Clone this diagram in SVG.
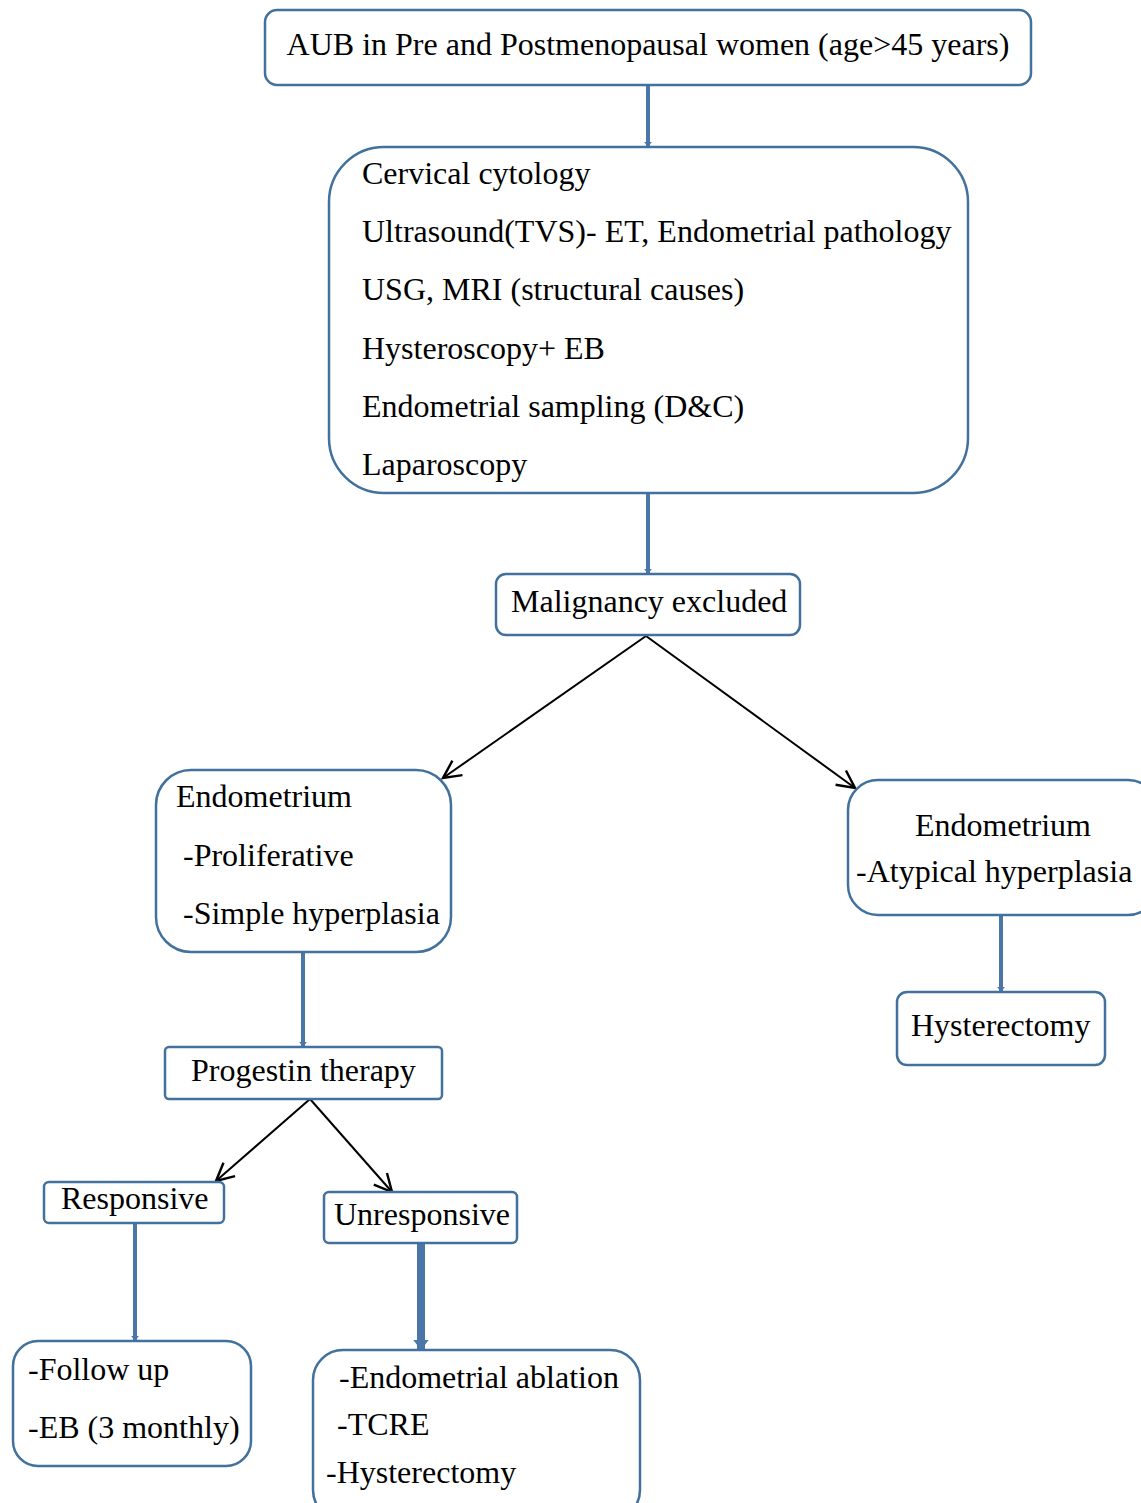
<svg xmlns="http://www.w3.org/2000/svg" width="1141" height="1503" viewBox="0 0 1141 1503">
<defs>
<style>
.box{fill:#fff;stroke:#41719c;stroke-width:2.5}
text{font-family:"Liberation Serif","Times New Roman",serif;font-size:32px;fill:#000}
.blue{stroke:#4a76a8;fill:none}
.blk{stroke:#000;stroke-width:2;fill:none}
</style>
<marker id="bh" viewBox="0 0 10 10" refX="10" refY="5" markerWidth="1.3" markerHeight="2" orient="auto" markerUnits="strokeWidth" preserveAspectRatio="none"><path d="M0,0L10,5L0,10z" fill="#4a76a8"/></marker>
<marker id="oh" viewBox="0 0 20 20" refX="18" refY="10" markerWidth="11" markerHeight="11" orient="auto" markerUnits="strokeWidth"><path d="M2,2L18,10L2,18" fill="none" stroke="#000" stroke-width="2.2"/></marker>
</defs>
<rect width="1141" height="1503" fill="#fff"/>
<g id="connectors">
<line class="blue" x1="648" y1="85" x2="648" y2="147" stroke-width="4" marker-end="url(#bh)"/>
<line class="blue" x1="648" y1="493" x2="648" y2="574" stroke-width="4" marker-end="url(#bh)"/>
<line class="blk" x1="646" y1="636" x2="443" y2="778" marker-end="url(#oh)"/>
<line class="blk" x1="646" y1="636" x2="855" y2="788" marker-end="url(#oh)"/>
<line class="blue" x1="303" y1="952" x2="303" y2="1047" stroke-width="4" marker-end="url(#bh)"/>
<line class="blue" x1="1001" y1="915" x2="1001" y2="992" stroke-width="4" marker-end="url(#bh)"/>
<line class="blk" x1="310" y1="1099" x2="216" y2="1181" marker-end="url(#oh)"/>
<line class="blk" x1="310" y1="1099" x2="392" y2="1192" marker-end="url(#oh)"/>
<line class="blue" x1="135" y1="1223" x2="135" y2="1341" stroke-width="4" marker-end="url(#bh)"/>
<line class="blue" x1="421" y1="1243" x2="421" y2="1350" stroke-width="8" marker-end="url(#bh)"/>
</g>
<g id="n1"><rect class="box" x="265" y="10" width="766" height="75" rx="12"/><text x="648" y="55" text-anchor="middle">AUB in Pre and Postmenopausal women (age&gt;45 years)</text></g>
<g id="n2"><rect class="box" x="329" y="147" width="639" height="346" rx="55"/>
<text x="362" y="184">Cervical cytology</text>
<text x="362" y="242">Ultrasound(TVS)- ET, Endometrial pathology</text>
<text x="362" y="300">USG, MRI (structural causes)</text>
<text x="362" y="359">Hysteroscopy+ EB</text>
<text x="362" y="417">Endometrial sampling (D&amp;C)</text>
<text x="362" y="475">Laparoscopy</text></g>
<g id="n3"><rect class="box" x="496" y="574" width="304" height="61" rx="10"/><text x="511" y="612">Malignancy excluded</text></g>
<g id="n4"><rect class="box" x="156" y="770" width="295" height="182" rx="35"/>
<text x="176" y="807">Endometrium</text>
<text x="183" y="866">-Proliferative</text>
<text x="183" y="924">-Simple hyperplasia</text></g>
<g id="n5"><rect class="box" x="848" y="780" width="310" height="135" rx="30"/>
<text x="1003" y="836" text-anchor="middle">Endometrium</text>
<text x="856" y="882">-Atypical hyperplasia</text></g>
<g id="n6"><rect class="box" x="897" y="992" width="208" height="73" rx="10"/><text x="911" y="1036">Hysterectomy</text></g>
<g id="n7"><rect class="box" x="165" y="1047" width="277" height="52" rx="4"/><text x="191" y="1081">Progestin therapy</text></g>
<g id="n8"><rect class="box" x="44" y="1182" width="180" height="41" rx="5"/><text x="61" y="1209">Responsive</text></g>
<g id="n9"><rect class="box" x="324" y="1192" width="193" height="51" rx="5"/><text x="334" y="1225">Unresponsive</text></g>
<g id="n10"><rect class="box" x="13" y="1341" width="238" height="125" rx="25"/>
<text x="28" y="1380">-Follow up</text>
<text x="28" y="1438">-EB (3 monthly)</text></g>
<g id="n11"><rect class="box" x="313" y="1350" width="327" height="170" rx="30"/>
<text x="339" y="1388">-Endometrial ablation</text>
<text x="337" y="1435">-TCRE</text>
<text x="326" y="1483">-Hysterectomy</text></g>
</svg>
